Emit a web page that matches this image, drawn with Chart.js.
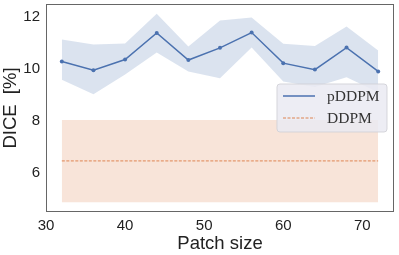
<!DOCTYPE html>
<html>
<head>
<meta charset="utf-8">
<script src="https://cdn.jsdelivr.net/npm/chart.js@4/dist/chart.umd.min.js"></script>
<style>
  html, body { margin: 0; padding: 0; background: #fff; }
  #wrap { width: 399px; height: 255px; }
</style>
</head>
<body>
<div id="wrap"><canvas id="myChart" width="399" height="255"></canvas></div>
<script>
'use strict';

let patchSizes = [32, 36, 40, 44, 48, 52, 56, 60, 64, 68, 72];

let pddpmMean = [10.28, 9.95, 10.36, 11.38, 10.34, 10.81, 11.40, 10.22, 9.97, 10.82, 9.90];
let pddpmUpper = [11.13, 10.94, 10.98, 12.12, 10.86, 11.86, 11.98, 10.97, 10.88, 11.63, 10.71];
let pddpmLower = [9.58, 9.02, 9.78, 10.63, 9.90, 9.64, 10.82, 9.51, 9.30, 9.68, 9.10];

let ddpmMean = [6.45, 6.45, 6.45, 6.45, 6.45, 6.45, 6.45, 6.45, 6.45, 6.45, 6.45];
let ddpmUpper = [8.03, 8.03, 8.03, 8.03, 8.03, 8.03, 8.03, 8.03, 8.03, 8.03, 8.03];
let ddpmLower = [4.86, 4.86, 4.86, 4.86, 4.86, 4.86, 4.86, 4.86, 4.86, 4.86, 4.86];

let xTicks = [30, 40, 50, 60, 70];
let yTicks = [6, 8, 10, 12];

let seriesNames = ['pDDPM', 'DDPM'];

function toPoints(values) {
  return values.map(function (v, i) {
    return { x: patchSizes[i], y: v };
  });
}

let blue = '#4c72b0';
let orange = '#dd8452';

// frame around the plot area
let framePlugin = {
  id: 'frame',
  afterDraw: function (chart) {
    let c = chart.ctx;
    let a = chart.chartArea;
    c.save();
    c.strokeStyle = '#666';
    c.lineWidth = 1;
    c.strokeRect(Math.round(a.left) + 0.5, Math.round(a.top) + 0.5,
      Math.round(a.right - a.left) - 1, Math.round(a.bottom - a.top) - 1);
    c.restore();
  }
};

// legend box drawn inside the plot, like matplotlib
let legendPlugin = {
  id: 'boxLegend',
  afterDatasetsDraw: function (chart) {
    let c = chart.ctx;
    let a = chart.chartArea;
    let x = a.left + 231;
    let y = a.top + 80;
    let w = 110;
    let h = 48;
    c.save();
    c.beginPath();
    c.roundRect(x, y, w, h, 3);
    c.fillStyle = 'rgba(234,234,242,0.85)';
    c.fill();
    c.strokeStyle = 'rgba(210,210,215,0.9)';
    c.lineWidth = 1;
    c.stroke();

    let colors = [blue, orange];
    let dashes = [[], [3, 1.5]];
    let widths = [1.5, 1];
    c.font = '15.5px "Liberation Serif", serif';
    c.textBaseline = 'middle';
    for (let i = 0; i < seriesNames.length; i++) {
      let ly = y + 12 + i * 22;
      c.beginPath();
      c.setLineDash(dashes[i]);
      c.strokeStyle = colors[i];
      c.lineWidth = widths[i];
      c.moveTo(x + 6, ly);
      c.lineTo(x + 38, ly);
      c.stroke();
      c.setLineDash([]);
      c.fillStyle = '#333';
      c.fillText(seriesNames[i], x + 50, ly + 1);
    }
    c.restore();
  }
};

let chartEl = document.getElementById('myChart');
let ctx = chartEl.getContext('2d');

new Chart(ctx, {
  type: 'line',
  data: {
    datasets: [{
      data: toPoints(pddpmUpper),
      borderWidth: 0,
      pointRadius: 0,
      fill: false
    }, {
      data: toPoints(pddpmLower),
      borderWidth: 0,
      pointRadius: 0,
      fill: '-1',
      backgroundColor: 'rgba(76,114,176,0.2)'
    }, {
      label: 'pDDPM',
      data: toPoints(pddpmMean),
      borderColor: blue,
      backgroundColor: blue,
      borderWidth: 1.5,
      pointRadius: 2,
      pointBorderWidth: 0,
      fill: false
    }, {
      data: toPoints(ddpmUpper),
      borderWidth: 0,
      pointRadius: 0,
      fill: false
    }, {
      data: toPoints(ddpmLower),
      borderWidth: 0,
      pointRadius: 0,
      fill: '-1',
      backgroundColor: 'rgba(221,132,82,0.22)'
    }, {
      label: 'DDPM',
      data: toPoints(ddpmMean),
      borderColor: orange,
      borderWidth: 1,
      borderDash: [3, 1.5],
      pointRadius: 0,
      fill: false
    }]
  },
  options: {
    responsive: false,
    animation: false,
    layout: { padding: { top: 4, right: 5, left: 0, bottom: 0 } },
    plugins: {
      legend: { display: false },
      tooltip: { enabled: false }
    },
    scales: {
      x: {
        type: 'linear',
        min: 30,
        max: 74,
        afterBuildTicks: function (axis) {
          axis.ticks = xTicks.map(function (v) { return { value: v }; });
        },
        afterFit: function (axis) {
          axis.height = 43;
          axis.paddingLeft = 0;
          axis.paddingRight = 0;
        },
        grid: { display: false, drawTicks: true, tickLength: 4, tickColor: '#666' },
        border: { display: false },
        ticks: {
          color: '#222',
          font: { family: '"Liberation Sans", Arial', size: 15 },
          padding: 1,
          maxRotation: 0
        },
        title: {
          display: true,
          text: 'Patch size',
          color: '#222',
          font: { family: '"Liberation Sans", Arial', size: 18.5 },
          padding: { top: 0, bottom: 0 }
        }
      },
      y: {
        min: 4.48,
        max: 12.5,
        afterBuildTicks: function (axis) {
          axis.ticks = yTicks.map(function (v) { return { value: v }; });
        },
        afterFit: function (axis) {
          axis.width = 46;
          axis.paddingTop = 0;
          axis.paddingBottom = 0;
        },
        grid: { display: false, drawTicks: true, tickLength: 4, tickColor: '#666' },
        border: { display: false },
        ticks: {
          color: '#222',
          font: { family: '"Liberation Sans", Arial', size: 15 },
          padding: 2
        },
        title: {
          display: true,
          text: 'DICE  [%]',
          color: '#222',
          font: { family: '"Liberation Sans", Arial', size: 18.5 },
          padding: { top: 0, bottom: 2 }
        }
      }
    }
  },
  plugins: [framePlugin, legendPlugin]
});
</script>
</body>
</html>
